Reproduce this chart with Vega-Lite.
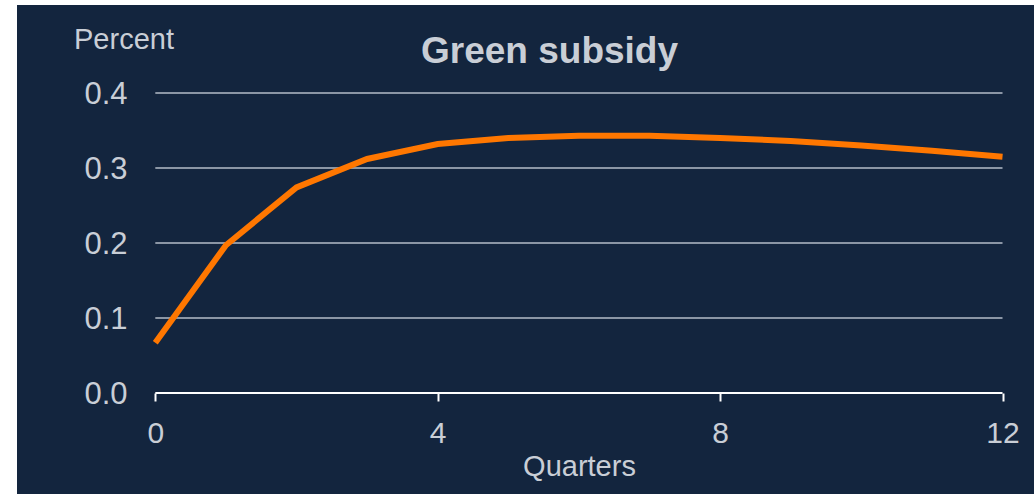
{
  "$schema": "https://vega.github.io/schema/vega-lite/v6.json",
  "autosize": {"type": "none"},
  "padding": {"left": 17, "top": 5, "right": 0, "bottom": 0},
  "width": 1017,
  "height": 489,
  "background": "#ffffff",
  "title": {
    "text": "Green subsidy",
    "font": "Liberation Sans",
    "fontSize": 37,
    "fontWeight": "bold",
    "color": "#c9ced6",
    "anchor": "middle",
    "offset": 0,
    "baseline": "alphabetic",
    "dx": 24,
    "dy": 95
  },
  "config": {
    "view": {"fill": "#13253e", "stroke": null},
    "font": "Liberation Sans"
  },
  "layer": [
    {
      "data": {"values": [{"level": 0.1}, {"level": 0.2}, {"level": 0.3}, {"level": 0.4}]},
      "mark": {"type": "rule", "color": "#b4bcc8", "strokeWidth": 1.3},
      "encoding": {
        "y": {"field": "level", "type": "quantitative"},
        "x": {"datum": 0},
        "x2": {"datum": 12}
      }
    },
    {
      "data": {"values": [{"level": 0}]},
      "mark": {"type": "rule", "color": "#ffffff", "strokeWidth": 2},
      "encoding": {
        "y": {"field": "level", "type": "quantitative"},
        "x": {"datum": 0},
        "x2": {"datum": 12}
      }
    },
    {
      "data": {
        "values": [
          {"quarter": 0, "value": 0.067},
          {"quarter": 1, "value": 0.197},
          {"quarter": 2, "value": 0.274},
          {"quarter": 3, "value": 0.312},
          {"quarter": 4, "value": 0.332},
          {"quarter": 5, "value": 0.340},
          {"quarter": 6, "value": 0.343},
          {"quarter": 7, "value": 0.343},
          {"quarter": 8, "value": 0.340},
          {"quarter": 9, "value": 0.336},
          {"quarter": 10, "value": 0.330},
          {"quarter": 11, "value": 0.323},
          {"quarter": 12, "value": 0.315}
        ]
      },
      "mark": {"type": "line", "color": "#ff7700", "strokeWidth": 6, "strokeJoin": "miter"},
      "encoding": {
        "x": {"field": "quarter", "type": "quantitative"},
        "y": {"field": "value", "type": "quantitative"}
      }
    }
  ],
  "resolve": {"scale": {"x": "shared", "y": "shared"}},
  "encoding": {
    "x": {
      "type": "quantitative",
      "scale": {"domain": [-1.959, 12.446], "nice": false, "zero": false},
      "axis": {
        "values": [0, 4, 8, 12],
        "offset": -101,
        "domain": false,
        "grid": false,
        "ticks": true,
        "tickColor": "#ffffff",
        "tickWidth": 2,
        "tickSize": 8,
        "labelFlush": false,
        "labelFontSize": 30,
        "labelColor": "#c9ced6",
        "labelBaseline": "alphabetic",
        "labelPadding": 41,
        "title": "Quarters",
        "titleFontSize": 29,
        "titleFontWeight": "normal",
        "titleColor": "#c9ced6",
        "titleX": 562,
        "titleY": 82,
        "titleAlign": "center",
        "titleBaseline": "alphabetic"
      }
    },
    "y": {
      "type": "quantitative",
      "scale": {"domain": [-0.1347, 0.5173], "nice": false, "zero": false},
      "axis": {
        "values": [0, 0.1, 0.2, 0.3, 0.4],
        "format": ".1f",
        "offset": -110,
        "domain": false,
        "grid": false,
        "ticks": false,
        "tickSize": 0,
        "labelPadding": 0,
        "labelFontSize": 31,
        "labelColor": "#c9ced6",
        "labelBaseline": "alphabetic",
        "labelOffset": 11,
        "title": "Percent",
        "titleAngle": 0,
        "titleFontSize": 29,
        "titleFontWeight": "normal",
        "titleColor": "#c9ced6",
        "titleX": -3.5,
        "titleY": 43,
        "titleAlign": "center",
        "titleBaseline": "alphabetic"
      }
    }
  }
}
